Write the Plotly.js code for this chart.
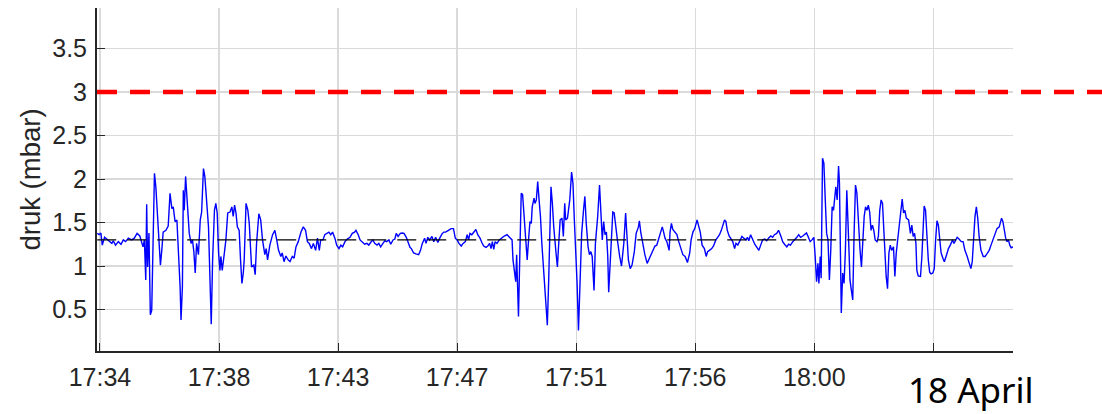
<!DOCTYPE html>
<html><head><meta charset="utf-8">
<script src="https://cdn.plot.ly/plotly-3.0.1.min.js"></script>
<style>html,body{margin:0;padding:0;background:#fff}</style>
</head><body><div id="chart" style="width:1102px;height:414px"></div>
<script>
// seconds after 17:34:00 on 18 April
const timeSec = [
-6,-2,2,5,10,15,20,26,29,34,40,46,51,56,62,69,75,81,87,91,94,97,100,102,104,107,110,113,119,122,126,130,132,135,138,144,149,153,157,160,164,168,171,175,177,180,182,184,187,191,195,199,202,205,208,211,215,219,222,226,229,237,239,243,246,250,253,256,259,262,264,267,272,275,279,284,288,291,294,297,300,304,307,310,313,315,319,323,326,331,336,339,
342,347,351,355,360,363,366,371,377,382,
386,390,395,398,402,406,411,415,420,424,
428,433,439,444,449,453,457,462,466,471,
475,479,482,487,491,495,500,504,508,513,
517,522,526,530,535,540,546,551,556,559,
564,568,573,578,583,587,591,596,600,605,
609,613,618,622,626,631,635,640,644,647,
651,656,660,664,669,673,677,
680,685,690,696,700,704,709,712,716,720,
725,729,733,738,742,747,751,755,761,767,
772,776,780,784,789,793,798,802,805,808,
812,816,821,825,830,834,838,843,847,851,
854,857,860,863,867,872,878,883,889,895,
900,902,905,908,910,914,917,920,923,926,
930,933,936,939,942,944,948,950,953,956,
959,962,965,969,974,977,980,983,985,988,
991,996,999,1001,1005,1009,1012,1015,
1017,1021,1026,1030,1033,1036,1039,1042,1045,1049,
1052,1056,1059,1062,1066,1069,1072,1075,1079,1082,
1087,1091,1094,1097,1100,1103,1106,1109,1111,1114,
1117,1120,1123,1126,1130,1135,1139,1144,1148,1151,
1154,1158,1162,1167,1171,1176,1178,1181,1186,1190,
1195,1199,1203,1208,1212,1216,1221,1225,1228,1231,
1234,1238,1243,1245,1248,1251,1256,1260,1264,1269,
1273,1278,1283,1288,1291,1295,1299,1304,1307,1311,
1315,1320,1324,1327,1331,1336,1340,1345,1349,1353,
1357,1361,1364,1367,1370,1374,1379,1382,1386,1389,
1393,1398,1402,1406,1411,1414,1417,1421,1425,1430,
1434,1439,1443,1447,1452,1456,1460,1465,1469,1473,
1478,1482,1487,1491,1495,1500,1504,1508,1513,1517,
1522,1526,1530,1535,1539,1543,1546,1551,1555,1559,
1562,1565,1568,1570,1573,1575,1578,1581,1584,1587,
1590,1593,1596,1599,1602,1605,1607,1610,1613,1615,
1618,1619,1622,1625,1628,1631,1634,1638,1641,1644,
1647,1650,1653,1657,1660,1663,1666,1669,1672,
1675,1678,1681,1684,1687,1690,1693,1697,1700,1703,
1706,1709,1712,1715,1717,1720,1723,1726,1729,1733,
1736,1739,1742,1747,1750,1752,1755,1758,1761,1766,
1770,1773,1776,1779,1782,1784,1787,1792,1795,1798,
1800,1803,1806,1809,1812,1815,1819,1822,1825,1828,
1831,1834,1837,1841,1844,1849,1853,1857,1862,1865,
1869,1872,1876,1881,1885,1889,1894,1898,1902,1905,
1908,1911,1914,1917,1920,1924,1929,1933,1937,1942,
1946,1951,1955,1959,1964,1967,1969,1972,1975,1978,
1981,1984,1987,1990,1994
];
// pressure in mbar
const pressure = [
1.375,1.36,1.38,1.24,1.33,1.31,1.28,1.26,1.29,1.24,1.28,1.25,1.30,1.28,1.32,1.30,1.32,1.375,1.345,1.26,1.22,1.30,0.84,1.71,0.99,1.38,0.44,0.49,2.065,1.91,1.57,1.26,1.01,1.18,1.39,1.41,1.46,1.835,1.66,1.68,1.51,1.53,1.22,0.76,0.38,0.76,1.87,1.64,2.03,1.72,1.375,1.26,1.30,1.165,0.92,1.26,1.13,1.53,1.62,2.12,2.03,1.45,0.95,0.33,1.07,1.64,1.72,1.61,1.15,0.95,1.11,0.95,1.165,1.30,1.61,1.62,1.68,1.57,1.70,1.61,1.45,1.41,1.07,0.80,0.92,1.07,1.72,1.64,1.49,0.99,1.01,0.90,
1.26,1.60,1.53,1.30,1.13,1.20,1.07,1.24,1.36,1.41,
1.30,1.18,1.11,1.15,1.05,1.115,1.07,1.05,1.11,1.09,
1.22,1.28,1.39,1.45,1.41,1.28,1.26,1.20,1.26,1.18,
1.32,1.18,1.30,1.30,1.36,1.375,1.39,1.36,1.39,1.32,
1.24,1.20,1.24,1.22,1.28,1.31,1.33,1.375,1.39,1.41,
1.36,1.30,1.28,1.25,1.26,1.24,1.27,1.30,1.26,1.24,
1.26,1.22,1.26,1.29,1.28,1.30,1.25,1.30,1.31,1.375,
1.34,1.375,1.38,1.375,1.33,1.26,1.215,
1.20,1.15,1.14,1.13,1.18,1.26,1.32,1.26,1.33,1.30,
1.34,1.28,1.33,1.27,1.32,1.37,1.39,1.39,1.41,1.43,
1.43,1.32,1.30,1.26,1.23,1.26,1.28,1.36,1.30,1.375,
1.36,1.39,1.42,1.36,1.32,1.27,1.23,1.215,1.23,1.26,
1.20,1.28,1.19,1.28,1.26,1.30,1.33,1.345,1.36,1.33,
1.30,1.07,0.92,0.82,1.13,0.42,1.15,1.835,1.82,1.57,
1.22,1.07,1.30,1.51,1.49,1.68,1.78,1.72,1.76,1.97,
1.76,1.57,1.26,0.95,0.53,0.32,0.84,1.64,1.91,1.72,
1.45,1.15,0.99,1.18,1.53,1.55,1.34,1.72,
1.53,1.55,1.76,2.08,1.95,1.53,1.22,0.80,0.26,1.07,
1.375,1.64,1.80,1.49,1.22,1.13,1.165,1.11,0.72,1.26,
1.57,1.93,1.64,1.30,1.51,1.36,1.39,1.11,0.70,0.99,
1.30,1.62,1.61,1.45,1.30,1.11,1.00,1.26,1.61,1.34,
1.07,0.97,1.01,1.165,1.375,1.45,1.52,1.39,1.22,1.13,
1.03,1.08,1.11,1.18,1.23,1.24,1.32,1.375,1.45,1.39,
1.32,1.28,1.18,1.39,1.49,1.42,1.39,1.36,1.28,1.18,
1.13,1.11,1.04,1.15,1.30,1.39,1.43,1.53,1.47,1.39,
1.24,1.20,1.11,1.165,1.18,1.20,1.23,1.30,1.33,1.36,
1.41,1.48,1.53,1.51,1.41,1.345,1.31,1.28,1.20,1.26,
1.24,1.30,1.34,1.32,1.30,1.33,1.29,1.36,1.30,1.25,
1.22,1.18,1.24,1.30,1.31,1.29,1.32,1.345,1.33,1.36,
1.375,1.41,1.345,1.28,1.25,1.22,1.25,1.24,1.28,1.30,
1.33,1.36,1.33,1.345,1.36,1.38,1.345,1.28,1.30,1.33,
1.11,0.82,1.03,0.80,1.11,0.86,2.24,2.18,1.76,1.375,
1.30,0.84,1.18,1.68,1.64,1.87,1.91,1.76,2.15,1.95,
1.07,0.46,0.92,0.80,1.18,1.87,1.45,0.84,0.72,0.61,
1.375,1.93,1.84,1.375,1.18,0.99,1.34,1.57,1.68,
1.64,1.70,1.62,1.41,1.47,1.41,1.30,1.28,1.34,1.64,
1.76,1.72,1.375,1.07,0.88,0.74,1.15,1.24,1.18,1.22,
0.88,1.15,1.30,1.53,1.68,1.77,1.61,1.64,1.55,1.53,
1.375,1.47,1.34,1.375,1.26,0.95,0.885,0.88,1.11,1.57,
1.69,1.64,1.34,1.07,0.93,0.91,0.92,0.97,1.30,1.52,
1.47,1.26,1.15,1.09,1.05,1.13,1.20,1.24,1.30,1.26,
1.30,1.33,1.31,1.28,1.28,1.18,1.11,1.05,0.97,1.05,
1.34,1.57,1.68,1.55,1.34,1.18,1.11,1.11,1.14,1.18,
1.24,1.31,1.39,1.43,1.45,1.50,1.55,1.51,1.41,1.32,
1.28,1.30,1.24,1.21,1.22
];
const meanLevel = 1.3;      // black dashed reference level
const limitLevel = 3;       // red dashed limit
const xTickSec = [0, 260, 520, 780, 1040, 1300, 1560, 1820];
const xTickLabels = ['17:34', '17:38', '17:43', '17:47', '17:51', '17:56', '18:00', ''];
const yTickVals = [0.5, 1, 1.5, 2, 2.5, 3, 3.5];
const yTickLabels = ['0.5', '1', '1.5', '2', '2.5', '3', '3.5'];
const dateLabel = '18 April';
const yLabel = 'druk (mbar)';

const W = 1102, H = 414;
const margin = {l: 97, r: 89, t: 8, b: 63, pad: 0};
const plotW = W - margin.l - margin.r;
const plotH = H - margin.t - margin.b;
const font = 'Liberation Sans, Arial, sans-serif';
const axisCol = '#262626';

const traces = [
  {x: timeSec, y: pressure, type: 'scatter', mode: 'lines',
   line: {color: '#0000ff', width: 1.4}, hoverinfo: 'skip'},
  {x: [timeSec[0], timeSec[timeSec.length - 1]], y: [meanLevel, meanLevel], type: 'scatter', mode: 'lines',
   line: {color: '#000000', width: 1.2, dash: '19px,11px'}, hoverinfo: 'skip'}
];

const layout = {
  width: W, height: H, margin: margin,
  paper_bgcolor: '#ffffff', plot_bgcolor: '#ffffff',
  showlegend: false,
  font: {family: font, color: axisCol},
  xaxis: {
    range: [-6.5, 1994], tickmode: 'array', tickvals: xTickSec, ticktext: xTickLabels,
    ticks: 'inside', ticklen: 8, tickwidth: 1, tickcolor: axisCol,
    showgrid: true, gridcolor: '#dadada', gridwidth: 1.3,
    showline: true, linecolor: axisCol, linewidth: 1.5, zeroline: false,
    tickfont: {family: font, size: 25, color: axisCol},
    ticklabelstandoff: 3, fixedrange: true
  },
  yaxis: {
    range: [0.023, 3.966], tickmode: 'array', tickvals: yTickVals, ticktext: yTickLabels,
    ticks: 'inside', ticklen: 8, tickwidth: 1, tickcolor: axisCol,
    showgrid: true, gridcolor: '#dadada', gridwidth: 1.3,
    showline: true, linecolor: axisCol, linewidth: 2, zeroline: false,
    tickfont: {family: font, size: 25, color: axisCol},
    ticklabelstandoff: 3,
    title: {text: yLabel, font: {family: font, size: 27.5, color: axisCol}, standoff: 4},
    fixedrange: true
  },
  shapes: [{
    type: 'line', xref: 'paper', yref: 'y', layer: 'above',
    x0: 0, x1: (W - margin.l) / plotW, y0: limitLevel, y1: limitLevel,
    line: {color: '#ff0000', width: 4.5, dash: '20px,13px'}
  }],
  annotations: [{
    text: dateLabel, xref: 'paper', yref: 'paper',
    x: (971 - margin.l) / plotW, y: -(389 - (H - margin.b)) / plotH,
    xanchor: 'center', yanchor: 'middle', showarrow: false,
    font: {family: 'Noto Sans, sans-serif', size: 35, color: '#000000'}
  }]
};

Plotly.newPlot('chart', traces, layout, {staticPlot: true, displayModeBar: false});
</script>
</body></html>
